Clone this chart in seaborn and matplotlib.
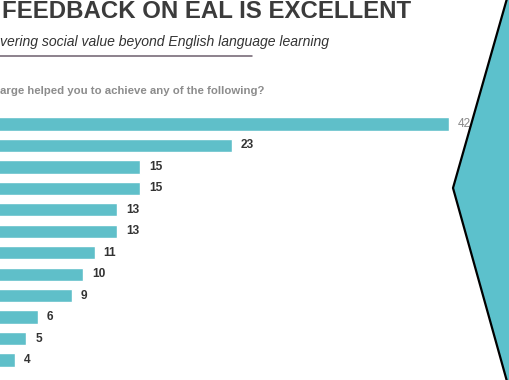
import numpy as np
import pandas as pd
import matplotlib.pyplot as plt
import seaborn as sns
from matplotlib.patches import Polygon
from matplotlib.lines import Line2D

# data (category names are cropped out of the photo)
categories = ["Item 1", "Item 2", "Item 3", "Item 4", "Item 5", "Item 6",
              "Item 7", "Item 8", "Item 9", "Item 10", "Item 11", "Item 12"]
counts = [42, 23, 15, 15, 13, 13, 11, 10, 9, 6, 5, 4]

title = "FEEDBACK ON EAL IS EXCELLENT"
subtitle = "vering social value beyond English language learning"
question = "arge helped you to achieve any of the following?"

df = pd.DataFrame({"item": categories, "count": counts})

sns.set_style("white")
plt.rcParams["font.family"] = ["Liberation Sans", "DejaVu Sans"]

teal = "#5fbfc9"
W, H = 510, 380
fig = plt.figure(figsize=(W / 100, H / 100), dpi=100)

# bar axes: left edge is cropped off the picture
ax = fig.add_axes([-31 / W, (H - 370.7) / H, 48 * 11.42 / W, (370.7 - 113.3) / H])
sns.barplot(data=df, x="count", y="item", orient="h", color=teal,
            saturation=1, width=0.62, ax=ax)
ax.set_xlim(0, 48)
ax.set_ylim(11.5, -0.5)
ax.axis("off")

labels = ax.bar_label(ax.containers[0], padding=6.5, fontsize=8.6,
                      fontweight="bold", color="#333333")
labels[0].set_color("#8a8a8a")
labels[0].set_fontweight("normal")

# header texts
fig.text(2 / W, 1 - 11.5 / H, title, fontsize=17.3, fontweight="bold",
         color="#3b3b3b", va="center", ha="left")
fig.text(0, 1 - 42 / H, subtitle, fontsize=10.1, style="italic",
         color="#333333", va="center", ha="left")
fig.add_artist(Line2D([0, 252 / W], [1 - 56 / H, 1 - 56 / H],
                      color="#6d5f6d", lw=1.1, transform=fig.transFigure))
fig.text(0, 1 - 91 / H, question, fontsize=8.2, fontweight="bold",
         color="#8c8c8c", va="center", ha="left")

# teal hexagon edge on the right
px = [(508, -5), (453, 188), (508, 385)]
pts = [(x / W, 1 - y / H) for x, y in px] + [(1.05, 1 - 385 / H), (1.05, 1 + 5 / H)]
fig.add_artist(Polygon(pts, closed=True, facecolor="#5cc1cc", edgecolor="none",
                       transform=fig.transFigure))
fig.add_artist(Line2D([p[0] for p in pts[:3]], [p[1] for p in pts[:3]],
                      color="black", lw=1.6, transform=fig.transFigure))

fig.savefig("out.png", dpi=100)
